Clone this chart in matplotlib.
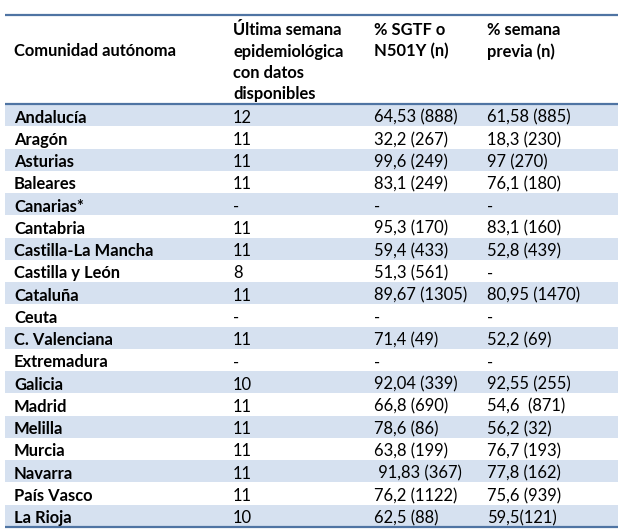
import matplotlib
matplotlib.use("Agg")
import matplotlib.pyplot as plt

comunidades = ["Andalucía", "Aragón", "Asturias", "Baleares", "Canarias*", "Cantabria",
               "Castilla-La Mancha", "Castilla y León", "Cataluña", "Ceuta", "C. Valenciana",
               "Extremadura", "Galicia", "Madrid", "Melilla", "Murcia", "Navarra",
               "País Vasco", "La Rioja"]
ultima_semana = ["12", "11", "11", "11", "-", "11", "11", "8", "11", "-", "11", "-",
                 "10", "11", "11", "11", "11", "11", "10"]
pct_sgtf = ["64,53 (888)", "32,2 (267)", "99,6 (249)", "83,1 (249)", "-", "95,3 (170)",
            "59,4 (433)", "51,3 (561)", "89,67 (1305)", "-", "71,4 (49)", "-",
            "92,04 (339)", "66,8 (690)", "78,6 (86)", "63,8 (199)", " 91,83 (367)",
            "76,2 (1122)", "62,5 (88)"]
pct_previa = ["61,58 (885)", "18,3 (230)", "97 (270)", "76,1 (180)", "-", "83,1 (160)",
              "52,8 (439)", "-", "80,95 (1470)", "-", "52,2 (69)", "-",
              "92,55 (255)", "54,6  (871)", "56,2 (32)", "76,7 (193)", "77,8 (162)",
              "75,6 (939)", "59,5(121)"]
headers = [["", "Comunidad autónoma"],
           ["Última semana", "epidemiológica", "con datos", "disponibles"],
           ["% SGTF o", "N501Y (n)"],
           ["% semana", "previa (n)"]]

plt.rcParams['font.family'] = ['Lato', 'DejaVu Sans']

fig = plt.figure(figsize=(6.24, 5.31), dpi=100)
ax = fig.add_axes([0, 0, 1, 1])
ax.set_xlim(0, 624)
ax.set_ylim(531, 0)
ax.axis('off')

left, right = 5, 618
top, head_bottom = 15, 104
row_h = 22.25
col_x = [14, 233, 374, 487]
line_color = '#4f74a3'
shade = '#d6e1f0'
txt = '#000000'
fs = 11.9

# header, one line at a time
head_lines_y = [30, 51.5, 73, 94.5]
for x, lines in zip(col_x, headers):
    for y, s in zip(head_lines_y, lines):
        ax.text(x, y, s, fontsize=fs, fontweight='bold', va='center', ha='left', color=txt)

# rows
for i, name in enumerate(comunidades):
    y0 = head_bottom + i * row_h
    if i % 2 == 0:
        ax.fill_between([left, right], y0, y0 + row_h, color=shade, lw=0)
    yc = y0 + row_h / 2 + 2.5
    ax.text(col_x[0], yc, name, fontsize=fs, fontweight='bold', va='center', color=txt)
    ax.text(col_x[1], yc, ultima_semana[i], fontsize=fs, va='center', color=txt)
    ax.text(col_x[2], yc, pct_sgtf[i], fontsize=fs, va='center', color=txt)
    ax.text(col_x[3], yc, pct_previa[i], fontsize=fs, va='center', color=txt)

bottom = head_bottom + len(comunidades) * row_h
for y in (top, head_bottom, bottom):
    ax.plot([left, right], [y, y], color=line_color, lw=1.6, solid_capstyle='butt')

fig.savefig("out.png", dpi=100)
